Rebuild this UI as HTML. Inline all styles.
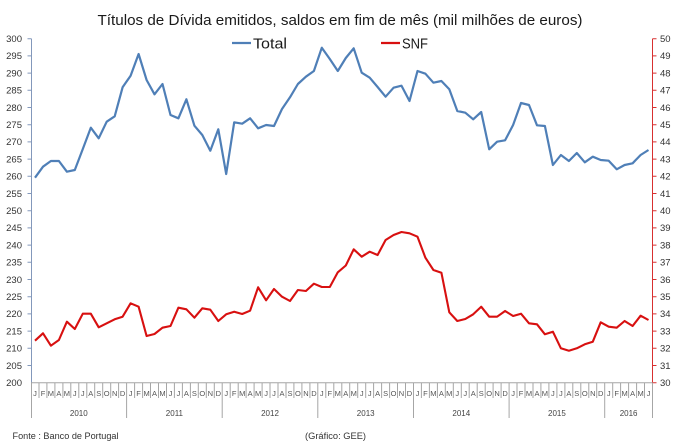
<!DOCTYPE html>
<html><head><meta charset="utf-8"><style>
html,body{margin:0;padding:0;background:#fff;}
svg{display:block;}
text{font-family:"Liberation Sans",sans-serif;}
</style></head><body>
<svg width="680" height="446" viewBox="0 0 680 446" xmlns="http://www.w3.org/2000/svg">
<rect width="680" height="446" fill="#fff"/>
<text x="340" y="25" font-size="14.5" text-anchor="middle" fill="#1a1a1a" textLength="485" lengthAdjust="spacingAndGlyphs">Títulos de Dívida emitidos, saldos em fim de mês  (mil milhões de euros)</text>
<line x1="232" y1="43" x2="251" y2="43" stroke="#4f7fb7" stroke-width="2.2"/>
<text x="253" y="48.5" font-size="15" fill="#1a1a1a" textLength="34" lengthAdjust="spacingAndGlyphs">Total</text>
<line x1="381" y1="43" x2="400" y2="43" stroke="#d81010" stroke-width="2.2"/>
<text x="402" y="48.5" font-size="15" fill="#1a1a1a" textLength="26" lengthAdjust="spacingAndGlyphs">SNF</text>
<g stroke="#8398bb" stroke-width="1" fill="none">
<path d="M31.5 38.7V382.7"/>
<path d="M27.5 38.7H31.5M27.5 55.9H31.5M27.5 73.1H31.5M27.5 90.3H31.5M27.5 107.5H31.5M27.5 124.7H31.5M27.5 141.9H31.5M27.5 159.1H31.5M27.5 176.3H31.5M27.5 193.5H31.5M27.5 210.7H31.5M27.5 227.9H31.5M27.5 245.1H31.5M27.5 262.3H31.5M27.5 279.5H31.5M27.5 296.7H31.5M27.5 313.9H31.5M27.5 331.1H31.5M27.5 348.3H31.5M27.5 365.5H31.5"/>
</g>
<g stroke="#d83030" stroke-width="1" fill="none">
<path d="M652.5 38.7V382.7"/>
<path d="M652.5 38.7H656.5M652.5 55.9H656.5M652.5 73.1H656.5M652.5 90.3H656.5M652.5 107.5H656.5M652.5 124.7H656.5M652.5 141.9H656.5M652.5 159.1H656.5M652.5 176.3H656.5M652.5 193.5H656.5M652.5 210.7H656.5M652.5 227.9H656.5M652.5 245.1H656.5M652.5 262.3H656.5M652.5 279.5H656.5M652.5 296.7H656.5M652.5 313.9H656.5M652.5 331.1H656.5M652.5 348.3H656.5M652.5 365.5H656.5M652.5 382.7H656.5"/>
</g>
<g font-size="9.5" fill="#333" text-anchor="end">
<text x="22" y="42">300</text><text x="22" y="59.2">295</text><text x="22" y="76.4">290</text><text x="22" y="93.6">285</text><text x="22" y="110.8">280</text><text x="22" y="128">275</text><text x="22" y="145.2">270</text><text x="22" y="162.4">265</text><text x="22" y="179.6">260</text><text x="22" y="196.8">255</text><text x="22" y="214">250</text><text x="22" y="231.2">245</text><text x="22" y="248.4">240</text><text x="22" y="265.6">235</text><text x="22" y="282.8">230</text><text x="22" y="300">225</text><text x="22" y="317.2">220</text><text x="22" y="334.4">215</text><text x="22" y="351.6">210</text><text x="22" y="368.8">205</text><text x="22" y="386">200</text>
</g>
<g font-size="9.5" fill="#333">
<text x="660" y="42">50</text><text x="660" y="59.2">49</text><text x="660" y="76.4">48</text><text x="660" y="93.6">47</text><text x="660" y="110.8">46</text><text x="660" y="128">45</text><text x="660" y="145.2">44</text><text x="660" y="162.4">43</text><text x="660" y="179.6">42</text><text x="660" y="196.8">41</text><text x="660" y="214">40</text><text x="660" y="231.2">39</text><text x="660" y="248.4">38</text><text x="660" y="265.6">37</text><text x="660" y="282.8">36</text><text x="660" y="300">35</text><text x="660" y="317.2">34</text><text x="660" y="334.4">33</text><text x="660" y="351.6">32</text><text x="660" y="368.8">31</text><text x="660" y="386">30</text>
</g>
<g stroke="#a6a6a6" stroke-width="1" fill="none">
<path d="M31 382.7H652.5"/>
<path d="M39 382.7V398M46.9 382.7V398M54.9 382.7V398M62.9 382.7V398M70.8 382.7V398M78.8 382.7V398M86.8 382.7V398M94.7 382.7V398M102.7 382.7V398M110.7 382.7V398M118.6 382.7V398M134.6 382.7V398M142.6 382.7V398M150.5 382.7V398M158.5 382.7V398M166.5 382.7V398M174.4 382.7V398M182.4 382.7V398M190.4 382.7V398M198.3 382.7V398M206.3 382.7V398M214.3 382.7V398M230.2 382.7V398M238.2 382.7V398M246.1 382.7V398M254.1 382.7V398M262.1 382.7V398M270 382.7V398M278 382.7V398M286 382.7V398M293.9 382.7V398M301.9 382.7V398M309.9 382.7V398M325.8 382.7V398M333.8 382.7V398M341.8 382.7V398M349.7 382.7V398M357.7 382.7V398M365.7 382.7V398M373.6 382.7V398M381.6 382.7V398M389.6 382.7V398M397.5 382.7V398M405.5 382.7V398M421.4 382.7V398M429.4 382.7V398M437.4 382.7V398M445.3 382.7V398M453.3 382.7V398M461.3 382.7V398M469.2 382.7V398M477.2 382.7V398M485.2 382.7V398M493.1 382.7V398M501.1 382.7V398M517 382.7V398M525 382.7V398M533 382.7V398M540.9 382.7V398M548.9 382.7V398M556.9 382.7V398M564.9 382.7V398M572.8 382.7V398M580.8 382.7V398M588.8 382.7V398M596.7 382.7V398M612.7 382.7V398M620.6 382.7V398M628.6 382.7V398M636.6 382.7V398M644.5 382.7V398"/>
<path d="M31.5 382.7V418M126.6 382.7V418M222.2 382.7V418M317.8 382.7V418M413.5 382.7V418M509.1 382.7V418M604.7 382.7V418M652.5 382.7V418"/>
</g>
<g font-size="7.5" fill="#555" text-anchor="middle">
<text x="35" y="396">J</text><text x="43" y="396">F</text><text x="50.9" y="396">M</text><text x="58.9" y="396">A</text><text x="66.9" y="396">M</text><text x="74.8" y="396">J</text><text x="82.8" y="396">J</text><text x="90.8" y="396">A</text><text x="98.7" y="396">S</text><text x="106.7" y="396">O</text><text x="114.7" y="396">N</text><text x="122.6" y="396">D</text>
<text x="130.6" y="396">J</text><text x="138.6" y="396">F</text><text x="146.6" y="396">M</text><text x="154.5" y="396">A</text><text x="162.5" y="396">M</text><text x="170.5" y="396">J</text><text x="178.4" y="396">J</text><text x="186.4" y="396">A</text><text x="194.4" y="396">S</text><text x="202.3" y="396">O</text><text x="210.3" y="396">N</text><text x="218.3" y="396">D</text>
<text x="226.2" y="396">J</text><text x="234.2" y="396">F</text><text x="242.2" y="396">M</text><text x="250.1" y="396">A</text><text x="258.1" y="396">M</text><text x="266.1" y="396">J</text><text x="274" y="396">J</text><text x="282" y="396">A</text><text x="290" y="396">S</text><text x="297.9" y="396">O</text><text x="305.9" y="396">N</text><text x="313.9" y="396">D</text>
<text x="321.8" y="396">J</text><text x="329.8" y="396">F</text><text x="337.8" y="396">M</text><text x="345.8" y="396">A</text><text x="353.7" y="396">M</text><text x="361.7" y="396">J</text><text x="369.7" y="396">J</text><text x="377.6" y="396">A</text><text x="385.6" y="396">S</text><text x="393.6" y="396">O</text><text x="401.5" y="396">N</text><text x="409.5" y="396">D</text>
<text x="417.5" y="396">J</text><text x="425.4" y="396">F</text><text x="433.4" y="396">M</text><text x="441.4" y="396">A</text><text x="449.3" y="396">M</text><text x="457.3" y="396">J</text><text x="465.3" y="396">J</text><text x="473.2" y="396">A</text><text x="481.2" y="396">S</text><text x="489.2" y="396">O</text><text x="497.1" y="396">N</text><text x="505.1" y="396">D</text>
<text x="513.1" y="396">J</text><text x="521" y="396">F</text><text x="529" y="396">M</text><text x="537" y="396">A</text><text x="544.9" y="396">M</text><text x="552.9" y="396">J</text><text x="560.9" y="396">J</text><text x="568.9" y="396">A</text><text x="576.8" y="396">S</text><text x="584.8" y="396">O</text><text x="592.8" y="396">N</text><text x="600.7" y="396">D</text>
<text x="608.7" y="396">J</text><text x="616.7" y="396">F</text><text x="624.6" y="396">M</text><text x="632.6" y="396">A</text><text x="640.6" y="396">M</text><text x="648.5" y="396">J</text>
</g>
<g font-size="8" fill="#444" text-anchor="middle">
<text x="78.8" y="416">2010</text><text x="174.4" y="416">2011</text><text x="270" y="416">2012</text><text x="365.7" y="416">2013</text><text x="461.3" y="416">2014</text><text x="556.9" y="416">2015</text><text x="628.6" y="416">2016</text>
</g>
<polyline fill="none" stroke="#4f7fb7" stroke-width="2.2" stroke-linejoin="round" points="35.0,177.7 43.0,166.7 50.9,161 58.9,161 66.9,171.7 74.8,170 82.8,149 90.8,127.7 98.7,138.3 106.7,121.7 114.7,116.3 122.6,87.3 130.6,75.7 138.6,54 146.6,80 154.5,94.3 162.5,84 170.5,115 178.4,118.3 186.4,99.3 194.4,125.7 202.3,135 210.3,150.7 218.3,129.3 226.2,174 234.2,122.3 242.2,123.7 250.1,118.3 258.1,128.3 266.1,125 274.0,126 282.0,109 290.0,97.3 297.9,84 305.9,76.7 313.9,71 321.8,47.7 329.8,59 337.8,71 345.8,58 353.7,48.3 361.7,72.7 369.7,77.7 377.6,87 385.6,96.7 393.6,87.7 401.5,85.7 409.5,101 417.5,71 425.4,73.7 433.4,82.7 441.4,81 449.3,89.3 457.3,111 465.3,112.7 473.2,119.3 481.2,112 489.2,149.3 497.1,141.7 505.1,140.3 513.1,125 521.0,103 529.0,105 537.0,125.3 544.9,126 552.9,165 560.9,155 568.9,161 576.8,153 584.8,162.3 592.8,156.7 600.7,160 608.7,160.7 616.7,169.3 624.6,165 632.6,163.3 640.6,155 648.5,150"/>
<polyline fill="none" stroke="#d81010" stroke-width="2.1" stroke-linejoin="round" points="35.0,340.7 43.0,333.3 50.9,345.7 58.9,340 66.9,321.7 74.8,329 82.8,313.7 90.8,313.7 98.7,327.3 106.7,323.3 114.7,319.3 122.6,316.7 130.6,303.3 138.6,306.7 146.6,336 154.5,334 162.5,327.7 170.5,326 178.4,307.7 186.4,309.3 194.4,317.7 202.3,308.3 210.3,309.7 218.3,321 226.2,314.3 234.2,311.7 242.2,314 250.1,310.7 258.1,287.3 266.1,300.3 274.0,289 282.0,296.7 290.0,301 297.9,290 305.9,291 313.9,283.7 321.8,287 329.8,287 337.8,272.3 345.8,265.5 353.7,249.3 361.7,256.7 369.7,251.7 377.6,255 385.6,240 393.6,235 401.5,232 409.5,233.3 417.5,236.7 425.4,257.7 433.4,270 441.4,272.7 449.3,312.3 457.3,321 465.3,319 473.2,314.3 481.2,306.7 489.2,316.7 497.1,316.7 505.1,311 513.1,316 521.0,313.7 529.0,323.3 537.0,324.3 544.9,334.3 552.9,331.7 560.9,348.3 568.9,350.7 576.8,348.3 584.8,344.3 592.8,341.7 600.7,322.3 608.7,326.7 616.7,327.7 624.6,321 632.6,326 640.6,315.7 648.5,320"/>
<text x="12.5" y="439" font-size="8.8" fill="#333" textLength="106" lengthAdjust="spacingAndGlyphs">Fonte : Banco de Portugal</text>
<text x="305" y="439" font-size="8.8" fill="#333" textLength="61" lengthAdjust="spacingAndGlyphs">(Gráfico: GEE)</text>
</svg>
</body></html>
